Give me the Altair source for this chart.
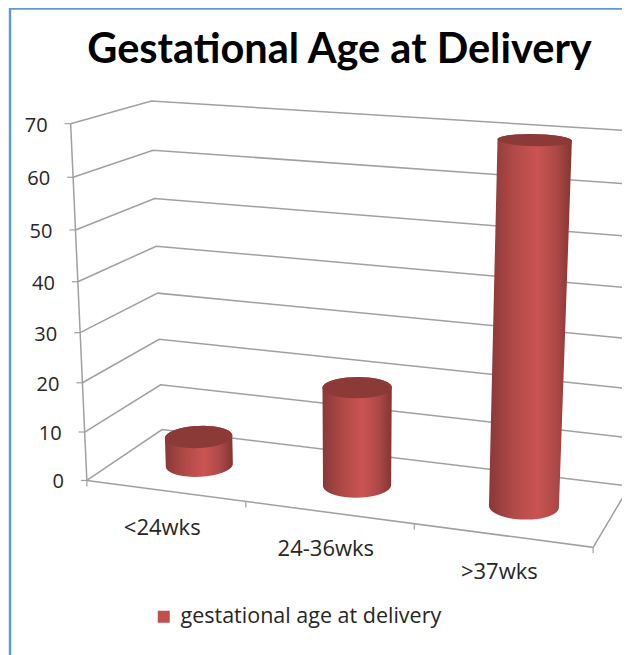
import numpy as np
import pandas as pd
import altair as alt

categories = ["<24wks", "24-36wks", ">37wks"]
values = [6, 20, 70]
value_ticks = [0, 10, 20, 30, 40, 50, 60, 70]
series_name = "gestational age at delivery"
title_text = "Gestational Age at Delivery"
AXIS_MAX = 70

# Calibration of the pictured 3D box: (u along categories, d depth, value) -> pixel
front_left = [(87, 480), (85, 431), (82, 382), (80, 332), (77, 282), (75, 230), (72.5, 177), (71, 125)]
back_left = [(162, 431), (160, 385), (159, 339), (158, 293), (156, 246), (155, 199), (153, 151), (152, 101)]
back_right = [(629, 486), (632, 438), (634, 387), (637, 337), (639, 286), (642, 236), (645, 182), (647, 127)]
front_floor = [(87, 480), (245, 501), (418, 525), (591, 548)]

corr = []
for v, p in zip(value_ticks, front_left):
    corr.append(((0, 0, v / AXIS_MAX), p, 3))
for v, p in zip(value_ticks, back_left):
    corr.append(((0, 1, v / AXIS_MAX), p, 3))
for v, p in zip(value_ticks, back_right):
    corr.append(((1, 1, v / AXIS_MAX), p, 4 if v == 0 else 1))
for i, p in enumerate(front_floor):
    corr.append(((i / 3, 0, 0), p, 4))
A, b = [], []
for (X, Y, Z), (px, py), w in corr:
    A.append([w * c for c in [X, Y, Z, 1, 0, 0, 0, 0, -px * X, -px * Y, -px * Z]])
    b.append(w * px)
    A.append([w * c for c in [0, 0, 0, 0, X, Y, Z, 1, -py * X, -py * Y, -py * Z]])
    b.append(w * py)
sol = np.linalg.lstsq(np.array(A, float), np.array(b, float), rcond=None)[0]
P = np.append(sol, 1).reshape(3, 4)


def proj(u, d, v):
    w = P @ np.array([u, d, v / AXIS_MAX, 1.0])
    return float(w[0] / w[2]), float(w[1] / w[2])


def polyline(group, pts):
    return [{"g": group, "o": i, "x": proj(*p)[0], "y": proj(*p)[1]} for i, p in enumerate(pts)]


# Walls, floor, axis
lines = []
for v in value_ticks:
    lines += polyline(f"grid{v}", [(0, 0, v), (0, 1, v), (1, 1, v)])
lines += polyline("axis", [(0, 0, 0), (0, 0, AXIS_MAX)])
lines += polyline("front", [(0, 0, 0), (1, 0, 0), (1, 1, 0)])
lines_df = pd.DataFrame(lines)

# Ticks
ticks = []
for v in value_ticks:
    x, y = proj(0, 0, v)
    ticks.append({"x": x - 6, "x2": x, "y": y, "y2": y})
for i in range(4):
    x, y = proj(i / 3, 0, 0)
    ticks.append({"x": x, "x2": x, "y": y, "y2": y + 6})
ticks_df = pd.DataFrame(ticks)

# Cylinders
RU, RD = 0.0655, 0.21
DEPTH = 0.47


def hull(points):
    pts = sorted(set(points))
    def half(seq):
        out = []
        for p in seq:
            while len(out) > 1 and (out[-1][0] - out[-2][0]) * (p[1] - out[-2][1]) - (out[-1][1] - out[-2][1]) * (p[0] - out[-2][0]) <= 0:
                out.pop()
            out.append(p)
        return out[:-1]
    return half(pts) + half(pts[::-1])


def rows(points):
    h = hull(points)
    ys = np.arange(min(p[1] for p in h), max(p[1] for p in h) + 0.5, 0.5)
    ys = np.append(ys, max(p[1] for p in h))
    out = []
    for y in ys:
        xs = []
        for a, c in zip(h, h[1:] + h[:1]):
            if min(a[1], c[1]) <= y <= max(a[1], c[1]) and a[1] != c[1]:
                xs.append(a[0] + (y - a[1]) / (c[1] - a[1]) * (c[0] - a[0]))
        if xs:
            out.append({"y": float(y), "x": min(xs), "x2": max(xs)})
    return pd.DataFrame(out)


def circle(i, v):
    ts = np.linspace(0, 2 * np.pi, 90, endpoint=False)
    return [proj((i + 0.5) / 3 + RU * np.cos(t), DEPTH + RD * np.sin(t), v) for t in ts]


xe = alt.X("x:Q", scale=alt.Scale(domain=[8, 622], range=[0, 614]), axis=None)
ye = alt.Y("y:Q", scale=alt.Scale(domain=[8, 655], range=[0, 647]), axis=None)

gradient = alt.Gradient(
    gradient="linear", x1=0, x2=1, y1=0, y2=0,
    stops=[
        alt.GradientStop(offset=0, color="#8a3836"),
        alt.GradientStop(offset=0.3, color="#b04a48"),
        alt.GradientStop(offset=0.58, color="#cb5452"),
        alt.GradientStop(offset=0.82, color="#ab4846"),
        alt.GradientStop(offset=1, color="#843432"),
    ],
)

grid = alt.Chart(lines_df).mark_line(color="#a0a0a0", strokeWidth=1.5, clip=True).encode(
    x=xe, y=ye, detail="g:N", order="o:Q")
tick_marks = alt.Chart(ticks_df).mark_rule(color="#a0a0a0", strokeWidth=1.2).encode(
    x=xe, x2="x2:Q", y=ye, y2="y2:Q")

layers = [grid, tick_marks]
for i, v in enumerate(values):
    body = rows(circle(i, 0) + circle(i, v))
    top = rows(circle(i, v))
    layers.append(alt.Chart(body).mark_area(orient="horizontal", color=gradient).encode(
        y=ye, x=xe, x2="x2:Q"))
    layers.append(alt.Chart(top).mark_area(orient="horizontal", color="#8c3a38").encode(
        y=ye, x=xe, x2="x2:Q"))

# Text
vlab = pd.DataFrame([{"t": str(v), "x": proj(0, 0, v)[0] - 23, "y": proj(0, 0, v)[1] + 2} for v in value_ticks])
layers.append(alt.Chart(vlab).mark_text(align="right", baseline="middle", font="Open Sans", fontSize=20, color="#262626").encode(
    x=xe, y=ye, text="t:N"))
clab = pd.DataFrame([{"t": c, "x": proj((i + 0.5) / 3, 0, 0)[0] - 3, "y": proj((i + 0.5) / 3, 0, 0)[1] + 37} for i, c in enumerate(categories)])
layers.append(alt.Chart(clab).mark_text(align="center", baseline="middle", font="Open Sans", fontSize=22, color="#262626").encode(
    x=xe, y=ye, text="t:N"))

# Border of the original picture
border = pd.DataFrame({"o": [0, 1, 2], "x": [622, 10, 10], "y": [8.5, 8.5, 655]})
layers.append(alt.Chart(border).mark_line(color="#5b9bd5", strokeWidth=2.4).encode(x=xe, y=ye, order="o:Q"))

# Legend
leg = pd.DataFrame({"s": [series_name], "x": [200], "y": [460]})
layers.append(alt.Chart(leg).mark_square(size=0).encode(
    x=xe, y=ye,
    color=alt.Color("s:N", scale=alt.Scale(range=["#c0504d"]), legend=alt.Legend(
        title=None, orient="none", legendX=145, legendY=598, symbolType="square", symbolSize=144,
        symbolStrokeWidth=0, labelFont="Open Sans", labelFontSize=21.5, labelOffset=6, labelColor="#262626", labelLimit=400, symbolOpacity=1))))

chart = alt.layer(*layers).properties(
    width=614, height=647, padding=0, autosize=alt.AutoSizeParams(type="none"), background="white",
    title=alt.TitleParams(title_text, font="Lato", fontWeight="bold", fontSize=41.5, color="#000000", anchor="middle", dx=24.5, dy=68, offset=0),
).configure_view(stroke=None)

chart.save("out.html", embed_options={"renderer": "svg", "actions": False})
